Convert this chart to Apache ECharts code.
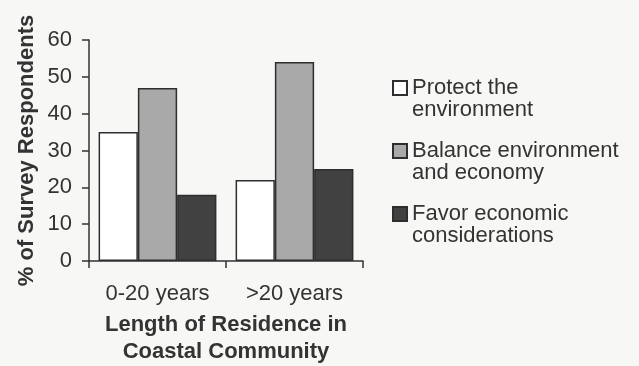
<!DOCTYPE html>
<html>
<head>
<meta charset="utf-8">
<script src="https://cdn.jsdelivr.net/npm/echarts@6/dist/echarts.min.js"></script>
<style>
  html, body { margin: 0; padding: 0; background: #f7f7f5; }
  #chart { width: 639px; height: 366px; }
</style>
</head>
<body>
<div id="chart"></div>
<script>
// Survey responses by length of residence
const categories = ['0-20 years', '>20 years'];
const seriesNames = ['Protect the\nenvironment', 'Balance environment\nand economy', 'Favor economic\nconsiderations'];
const protectValues = [35, 22];
const balanceValues = [47, 54];
const favorValues = [18, 25];
const yTicks = [0, 10, 20, 30, 40, 50, 60];

const ink = '#333333';
const fontFamily = '"Liberation Sans", Arial, Helvetica, sans-serif';

const chart = echarts.init(document.getElementById('chart'), null, { renderer: 'canvas' });

const barStyle = (fill) => ({ color: fill, borderColor: '#2e2e2e', borderWidth: 1.5 });

chart.setOption({
  backgroundColor: '#f7f7f5',
  animation: false,
  textStyle: { fontFamily: fontFamily, color: ink },
  grid: { left: 89, right: 276, top: 40, bottom: 105, containLabel: false, outerBoundsMode: 'none' },
  legend: {
    orient: 'vertical',
    left: 387,
    top: 50,
    itemWidth: 14,
    itemHeight: 14,
    itemGap: -3,
    icon: 'rect',
    selectedMode: false,
    // a blank leading line keeps the swatch level with the first line of each label
    formatter: (name) => ' \n' + name,
    textStyle: {
      fontFamily: fontFamily,
      fontSize: 22,
      color: ink,
      lineHeight: 22
    },
    data: seriesNames.map((n) => ({ name: n }))
  },
  xAxis: {
    type: 'category',
    data: categories,
    name: 'Length of Residence in\nCoastal Community',
    nameLocation: 'middle',
    nameGap: 50,
    nameTextStyle: { fontFamily: fontFamily, fontSize: 22, fontWeight: 'bold', color: ink, lineHeight: 27 },
    axisLine: { lineStyle: { color: ink, width: 1.5 } },
    axisTick: { show: true, length: 7, inside: false, lineStyle: { color: ink, width: 1.5 } },
    axisLabel: { fontFamily: fontFamily, fontSize: 22, color: ink, margin: 22 },
    splitLine: { show: false }
  },
  yAxis: {
    type: 'value',
    min: 0,
    max: 60,
    interval: 10,
    name: '% of Survey Respondents',
    nameLocation: 'middle',
    nameGap: 51,
    nameRotate: 90,
    nameTextStyle: { fontFamily: fontFamily, fontSize: 22, fontWeight: 'bold', color: ink },
    axisLine: { show: true, lineStyle: { color: ink, width: 1.5 } },
    axisTick: { show: true, length: 7, lineStyle: { color: ink, width: 1.5 } },
    axisLabel: {
      fontFamily: fontFamily, fontSize: 22, color: ink, margin: 17,
      formatter: (v) => (yTicks.indexOf(v) >= 0 ? String(v) : '')
    },
    splitLine: { show: false }
  },
  series: [
    { name: seriesNames[0], type: 'bar', data: protectValues, itemStyle: barStyle('#ffffff'), barGap: '0%', barCategoryGap: '14%' },
    { name: seriesNames[1], type: 'bar', data: balanceValues, itemStyle: barStyle('#a9a9a9') },
    { name: seriesNames[2], type: 'bar', data: favorValues, itemStyle: barStyle('#414141') }
  ]
});
</script>
</body>
</html>
